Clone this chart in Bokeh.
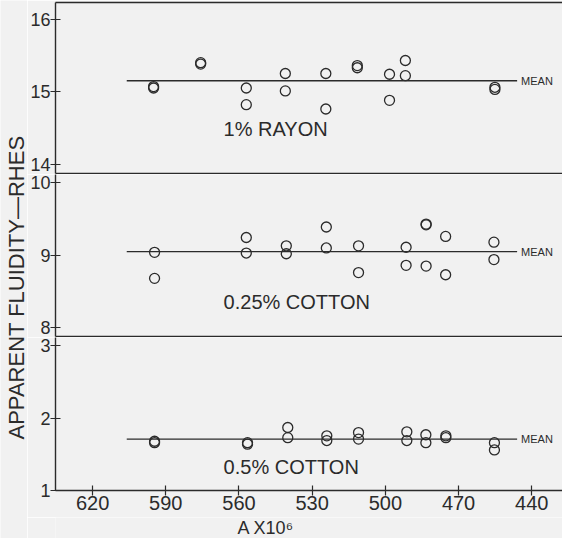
import math
from bokeh.plotting import figure
from bokeh.layouts import row, column
from bokeh.models import Range1d, LinearAxis, FixedTicker, Label
from bokeh.core.properties import value
from bokeh.embed import file_html
from bokeh.resources import INLINE

# ---------------- data ----------------
x_ticks = [620, 590, 560, 530, 500, 470, 440]

rayon_x = [595, 595, 575.7, 575.7, 557, 557, 541, 541, 524.4, 524.4,
           511.5, 511.5, 498.3, 498.3, 491.8, 491.8, 455.1, 455.1]
rayon_y = [15.07, 15.05, 15.40, 15.38, 15.05, 14.82, 15.25, 15.01, 15.25, 14.76,
           15.36, 15.33, 15.24, 14.88, 15.43, 15.22, 15.06, 15.03]
rayon_mean = 15.15

cot25_x = [594.6, 594.6, 557, 557, 540.6, 540.6, 524.2, 524.2, 511, 511,
           491.5, 491.5, 483.3, 483.3, 483.3, 475.3, 475.3, 455.5, 455.5]
cot25_y = [9.04, 8.68, 9.245, 9.03, 9.13, 9.02, 9.39, 9.10, 9.13, 8.76,
           9.11, 8.86, 9.43, 9.42, 8.85, 9.26, 8.73, 9.18, 8.94]
cot25_mean = 9.05

cot5_x = [594.6, 594.6, 556.5, 556.5, 540, 540, 524, 524, 511, 511,
          491.2, 491.2, 483.4, 483.4, 475.2, 475.2, 455.3, 455.3]
cot5_y = [1.68, 1.66, 1.66, 1.64, 1.87, 1.73, 1.755, 1.69, 1.80, 1.71,
          1.81, 1.69, 1.77, 1.66, 1.755, 1.73, 1.66, 1.56]
cot5_mean = 1.71

mean_x = [606, 446]

BG = "#f1f1f1"
INK = "#2b2b2b"
FONT = "Liberation Sans"

xr = Range1d(635.2, 427.4)


def style_axis(ax, ticks, font_size):
    ax.ticker = FixedTicker(ticks=ticks)
    ax.minor_tick_line_color = None
    ax.major_tick_in = 5
    ax.major_tick_out = 5
    ax.axis_line_color = INK
    ax.axis_line_width = 1.4
    ax.major_tick_line_color = INK
    ax.major_tick_line_width = 1.2
    ax.major_label_text_font = FONT
    ax.major_label_text_font_size = font_size
    ax.major_label_text_color = INK


def line_only_axis():
    ax = LinearAxis(ticker=FixedTicker(ticks=[]))
    ax.axis_line_color = INK
    ax.axis_line_width = 1.4
    ax.major_tick_line_color = None
    ax.minor_tick_line_color = None
    ax.major_tick_in = 0
    ax.major_tick_out = 0
    ax.major_label_standoff = 0
    return ax


def panel(ylo, yhi, yticks, height, btop, bbot, xs, ys, mean, label, lx, ly, bottom=False, top=False):
    p = figure(width=535, height=height, x_range=xr, y_range=Range1d(ylo, yhi),
               output_backend="svg", toolbar_location=None, x_axis_location=None,
               min_border_left=28, min_border_right=0, min_border_top=btop,
               min_border_bottom=bbot, background_fill_color=BG, border_fill_color=BG,
               outline_line_color=None)
    p.grid.visible = False
    style_axis(p.yaxis[0], yticks, "18px")
    p.yaxis[0].major_label_standoff = 0
    if bottom:
        ax = LinearAxis()
        style_axis(ax, x_ticks, "20px")
        ax.major_label_standoff = 0
        p.add_layout(ax, "below")
    else:
        p.add_layout(line_only_axis(), "below")
    if top:
        p.add_layout(line_only_axis(), "above")
    p.line(mean_x, [mean, mean], line_color=INK, line_width=1.3)
    p.scatter(xs, ys, marker="circle", size=10, fill_color=None, line_color=INK, line_width=1.3)
    p.text(x=[mean_x[1]], y=[mean], text=["MEAN"], x_offset=4, text_font=value(FONT),
           text_font_size="11px", text_baseline="middle", text_color=INK)
    p.text(x=[lx], y=[ly], text=[label], text_font=value(FONT), text_font_size="20px",
           text_baseline="middle", text_color=INK)
    return p


p1 = panel(13.869, 16.231, [14, 15, 16], 174, 2, 1, rayon_x, rayon_y, rayon_mean,
           "1% RAYON", 566.3, 14.49, top=True)
p2 = panel(7.877, 10.115, [8, 9, 10], 163, 0, 1, cot25_x, cot25_y, cot25_mean,
           "0.25% COTTON", 566.3, 8.35)
p3 = panel(1.0, 3.113, [1, 2, 3], 180, 0, 27, cot5_x, cot5_y, cot5_mean,
           "0.5% COTTON", 566.3, 1.327, bottom=True)

# x-axis title strip (shares the x range so the title sits where the original does)
xl = figure(width=535, height=21, x_range=xr, y_range=Range1d(0, 21),
            output_backend="svg", toolbar_location=None, x_axis_location=None,
            y_axis_location=None, min_border_left=28, min_border_right=0,
            min_border_top=0, min_border_bottom=0, outline_line_color=None,
            background_fill_color=BG, border_fill_color=BG)
xl.grid.visible = False
xl.text(x=[549], y=[10.5], text=["A X10⁶"], text_font=value(FONT), text_font_size="18px",
        text_color=INK, text_align="center", text_baseline="middle")

lab = figure(width=27, height=538, x_range=Range1d(0, 27), y_range=Range1d(0, 538),
             output_backend="svg", toolbar_location=None, x_axis_location=None,
             y_axis_location=None, min_border=0, outline_line_color=None,
             background_fill_color=BG, border_fill_color=BG)
lab.grid.visible = False
lab.add_layout(Label(x=15.5, y=251, text="APPARENT FLUIDITY\u2014RHES", angle=math.pi / 2,
                     text_font=FONT, text_font_size="22px", text_color=INK,
                     text_align="center", text_baseline="middle"))

layout = row(lab, column(p1, p2, p3, xl, spacing=0), spacing=0)

open("out.html", "w").write(file_html(layout, INLINE))
